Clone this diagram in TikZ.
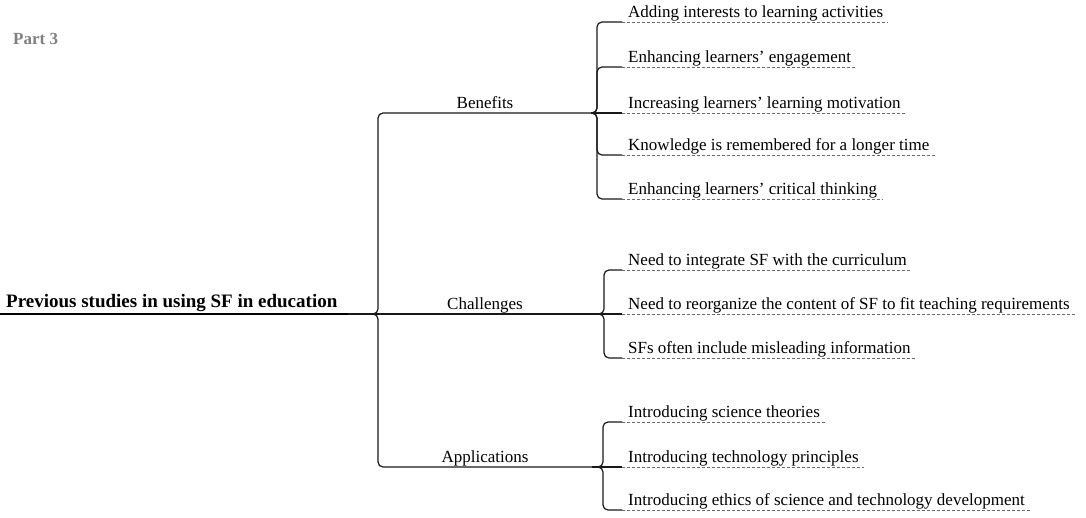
\documentclass[tikz,border=0pt]{standalone}
\usepackage{fontspec}
\setmainfont{Liberation Serif}
\usetikzlibrary{
    calc,
    positioning
}
\definecolor{partgray}{RGB}{128,128,128}
\definecolor{rulegray}{RGB}{105,105,105}
\tikzset{
    % Text styles
    root text/.style={
        font=\fontsize{19}{22}\selectfont\bfseries,
        inner sep=0pt,
        anchor=base west
    },
    branch text/.style={
        font=\fontsize{17}{20}\selectfont,
        inner sep=0pt,
        anchor=base
    },
    leaf text/.style={
        font=\fontsize{17}{20}\selectfont,
        inner xsep=5pt,
        inner ysep=0pt,
        anchor=base west
    },
    % Line styles
    brace line/.style={
        line width=1.2pt,
        draw=black!90,
        rounded corners=5pt
    },
    leaf line/.style={
        line width=0.7pt,
        draw=rulegray,
        dash pattern=on 3pt off 2pt
    },
    root line/.style={
        line width=2.6pt,
        draw=black
    }
}

\begin{document}
\begin{tikzpicture}[x=1pt, y=1pt]
    \useasboundingbox (0,0) rectangle (1086,-517);
    \node[font=\fontsize{17}{20}\selectfont\bfseries, text=partgray,
        inner sep=0pt, anchor=base west] (part) at (13,-44) {Part 3};

    % root
    \node[root text] (root) at (6,-307) {Previous studies in using SF in education};
    \coordinate (root end) at (348,-314);
    \coordinate (hub) at (368,-314);
    \draw[root line] (0,-314) -- (root end);
    \draw[brace line] (root end) -- (hub);

    % branches
    \foreach \br/\x/\y/\txt in {ben/591/113/Benefits, cha/594/314/Challenges, app/592/467/Applications}{
        \coordinate (\br) at (\x,-\y);
        \node[branch text] (\br text) at (485,-\y+5) {\txt};
    }
    \draw[brace line] (hub) -| (378,-113) -- (ben);
    \draw[brace line] (hub) -| (378,-467) -- (app);
    \draw[brace line] (hub) -- (cha);

    % leaves with dashed rules
    \foreach \y/\txt in {
        22/Adding interests to learning activities,
        67/Enhancing learners’ engagement,
        113/Increasing learners’ learning motivation,
        155/Knowledge is remembered for a longer time,
        199/Enhancing learners’ critical thinking,
        270/Need to integrate SF with the curriculum,
        314/Need to reorganize the content of SF to fit teaching requirements,
        358/SFs often include misleading information,
        422/Introducing science theories,
        467/Introducing technology principles,
        510/Introducing ethics of science and technology development}{
        \coordinate (leaf \y) at (622,-\y);
        \node[leaf text] (text \y) at ($(leaf \y)+(1,4.5)$) {\txt};
        \draw[leaf line] (leaf \y) -- (leaf \y -| text \y.east);
    }

    % braces to leaves
    \foreach \br/\x/\y in {ben/597/22, ben/597/67, ben/597/155, ben/597/199,
        cha/604/270, cha/604/358, app/603/422, app/603/510}
        \draw[brace line] (\br) -| (\x,-\y) -- (leaf \y);
    \foreach \br/\y in {ben/113, cha/314, app/467}
        \draw[brace line] (\br) -- (leaf \y);
\end{tikzpicture}
\end{document}
